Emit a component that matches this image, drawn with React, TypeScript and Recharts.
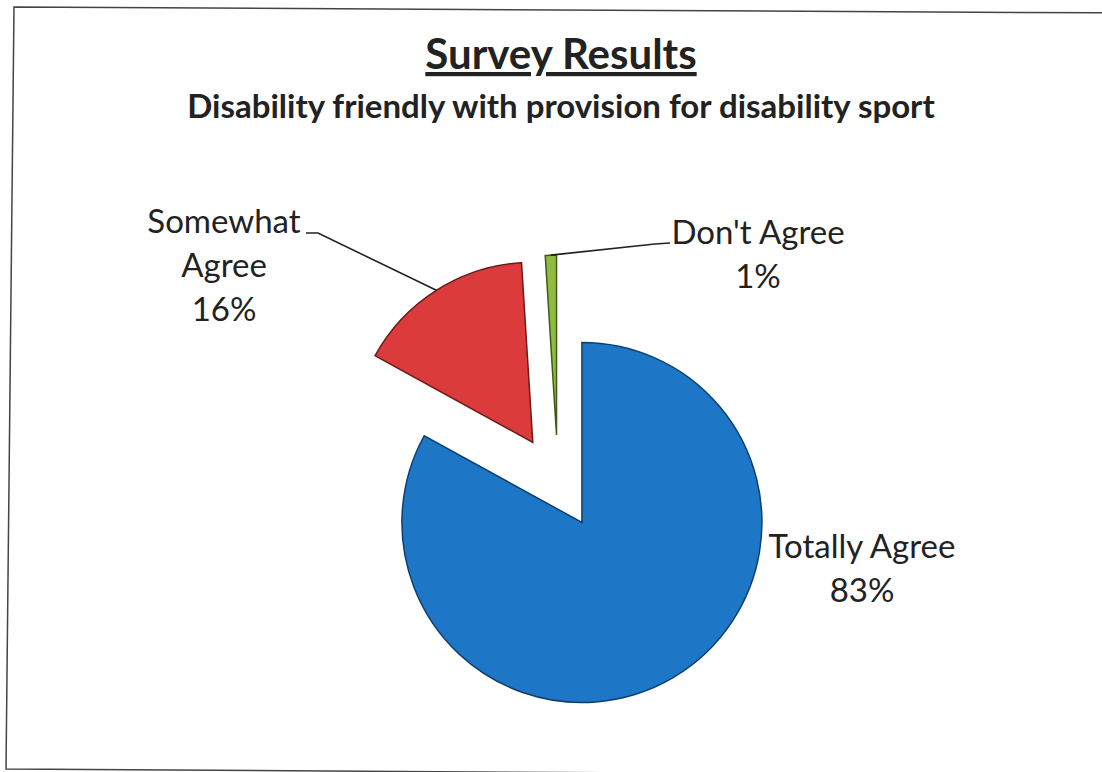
import React from "react";
import { PieChart, Pie, Cell } from "recharts";

// survey answers, share of respondents in %
const categories = ["Totally Agree", "Somewhat Agree", "Don't Agree"];
const percents = [83, 16, 1];
const colors = ["#1e76c6", "#dc3b3b", "#8fbc3f"];
const edgeColors = ["#0f3f6e", "#6e1a1a", "#3e5a18"];

const data = categories.map((name, i) => ({ name, value: percents[i] }));

const W = 1102;
const H = 772;
const CX = 558;
const CY = 482;
const R = 180;
const EXPLODE = 47;
const FONT = "Lato, 'Open Sans', sans-serif";

// where each label's text sits and how its leader line bends
const labelLayout = [
  { lines: ["Totally Agree", "83%"], x: 862, y: 558, leader: null as null | number[][] },
  { lines: ["Somewhat", "Agree", "16%"], x: 224, y: 233, leader: [[318, 233], [306, 233]] },
  { lines: ["Don't Agree", "1%"], x: 758, y: 244, leader: [[655, 244], [670, 243]] },
];

const RAD = Math.PI / 180;
const total = percents.reduce((a, b) => a + b, 0);
const midAngles = percents.map((v, i) => {
  const before = percents.slice(0, i).reduce((a, b) => a + b, 0);
  return 90 - (360 * (before + v / 2)) / total;
});

function makeLabel(target: number) {
  return (props: any) => {
    if (props.index !== target) return <g />;
    const { cx, cy, midAngle, outerRadius } = props;
    const lay = labelLayout[target];
    const px = cx + outerRadius * Math.cos(-midAngle * RAD);
    const py = cy + outerRadius * Math.sin(-midAngle * RAD);
    return (
      <g>
        {lay.leader && (
          <polyline
            points={[[px, py], ...lay.leader].map((p) => p.join(",")).join(" ")}
            fill="none"
            stroke="#222"
            strokeWidth={1.6}
          />
        )}
        {lay.lines.map((t, k) => (
          <text
            key={k}
            x={lay.x}
            y={lay.y + k * 44}
            textAnchor="middle"
            fontFamily={FONT}
            fontSize={33}
            fill="#222"
          >
            {t}
          </text>
        ))}
      </g>
    );
  };
}

export default function App() {
  return (
    <div style={{ position: "absolute", left: 0, top: 0, width: W, height: H, background: "#fff" }}>
      <PieChart
        width={W}
        height={H}
        margin={{ top: 0, right: 0, bottom: 0, left: 0 }}
        style={{ position: "absolute", left: 0, top: 0 }}
      >
        {data.map((_, i) => {
          const dx = EXPLODE * Math.cos(midAngles[i] * RAD);
          const dy = -EXPLODE * Math.sin(midAngles[i] * RAD);
          return (
            <Pie
              key={categories[i]}
              data={data}
              dataKey="value"
              nameKey="name"
              cx={CX + dx}
              cy={CY + dy}
              outerRadius={R}
              startAngle={90}
              endAngle={-270}
              isAnimationActive={false}
              labelLine={false}
              label={makeLabel(i)}
            >
              {data.map((d, j) => (
                <Cell
                  key={d.name}
                  fill={j === i ? colors[i] : "transparent"}
                  stroke={j === i ? edgeColors[i] : "none"}
                  strokeWidth={1.5}
                />
              ))}
            </Pie>
          );
        })}
      </PieChart>
      <svg width={W} height={H} style={{ position: "absolute", left: 0, top: 0, pointerEvents: "none" }}>
        <polygon points="14,7 1130,13 1124,776 6,769" fill="none" stroke="#444" strokeWidth={1.5} />
        <text x={561} y={69} textAnchor="middle" fontFamily={FONT} fontWeight={700} fontSize={42} fill="#222" textDecoration="underline">
          Survey Results
        </text>
        <text x={561} y={118} textAnchor="middle" fontFamily={FONT} fontWeight={700} fontSize={33} fill="#222">
          Disability friendly with provision for disability sport
        </text>
      </svg>
    </div>
  );
}
